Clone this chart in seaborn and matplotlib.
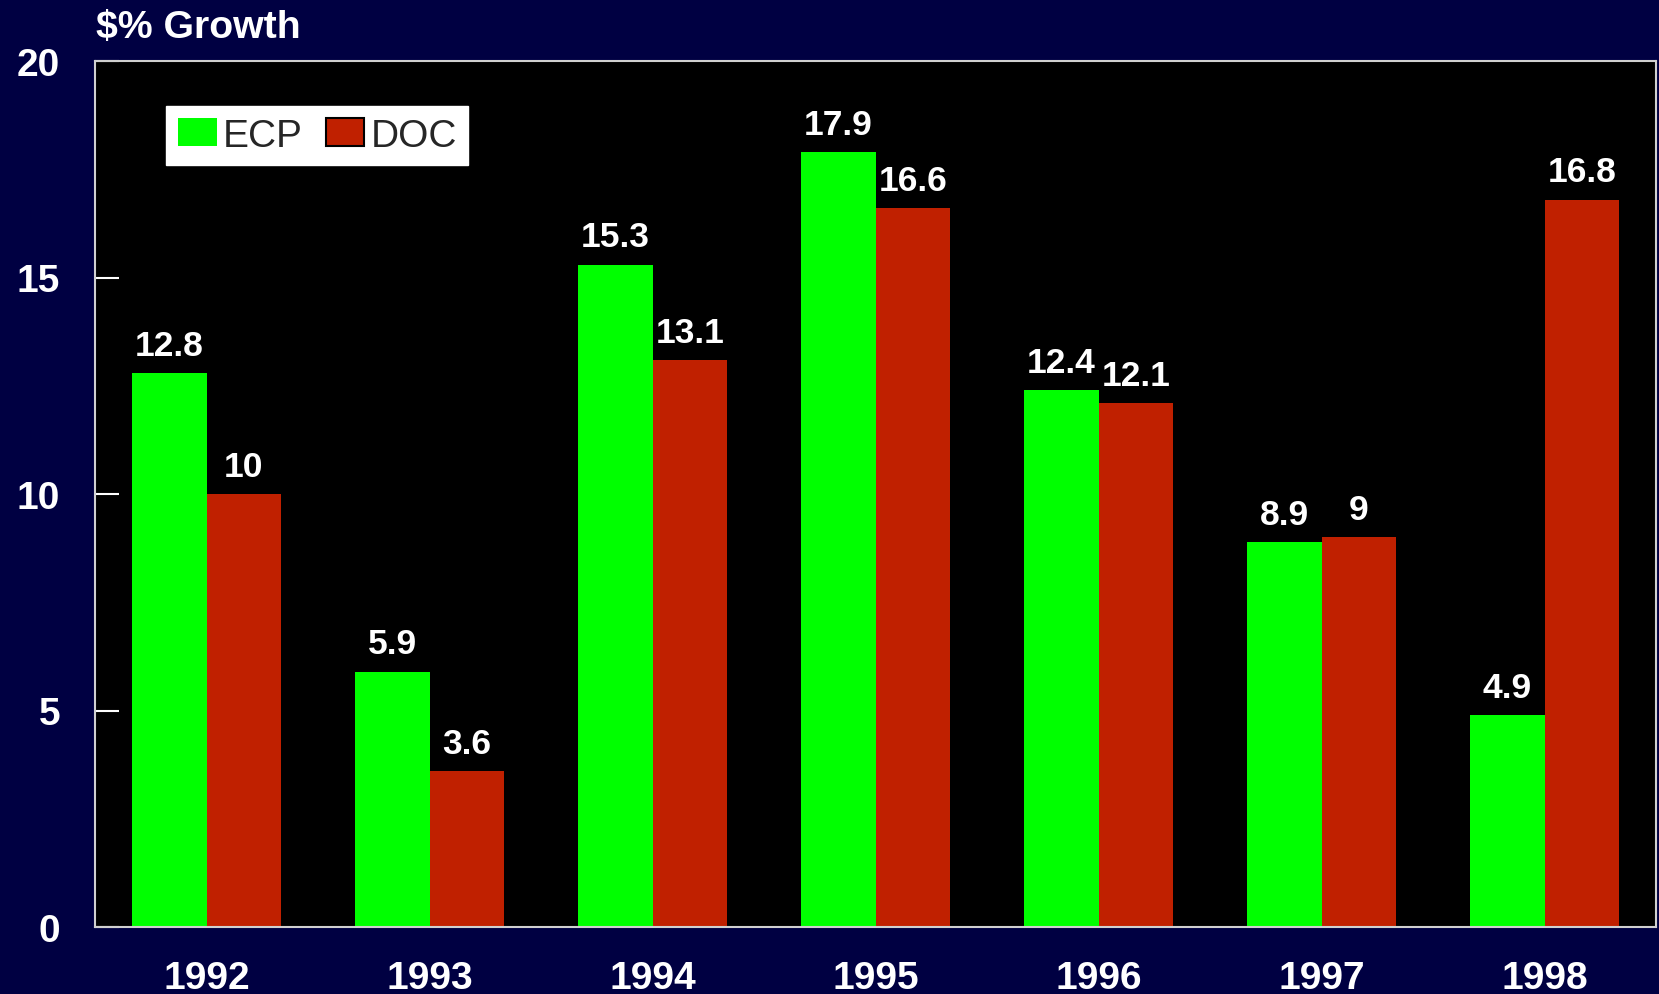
import pandas as pd
import seaborn as sns
import matplotlib.pyplot as plt
from matplotlib.patches import Patch

years = ['1992', '1993', '1994', '1995', '1996', '1997', '1998']
ecp = [12.8, 5.9, 15.3, 17.9, 12.4, 8.9, 4.9]
doc = [10, 3.6, 13.1, 16.6, 12.1, 9, 16.8]
series = ['ECP', 'DOC']
colors = ['#00ff00', '#c02000']
navy = '#000042'

df = pd.DataFrame({
    'year': years * 2,
    'value': ecp + doc,
    'series': ['ECP'] * len(years) + ['DOC'] * len(years),
})

sns.set_style('white')
plt.rcParams['font.family'] = ['Liberation Sans', 'DejaVu Sans']

fig = plt.figure(figsize=(16.59, 9.95), dpi=100, facecolor=navy)
ax = fig.add_axes([95 / 1659, 1 - 928 / 995, 1561 / 1659, 866 / 995])
ax.set_facecolor('black')

sns.barplot(data=df, x='year', y='value', hue='series', hue_order=series,
            palette=colors, width=0.67, saturation=1, linewidth=0,
            legend=False, ax=ax)

for cont in ax.containers:
    labels = ['%g' % v for v in cont.datavalues]
    ax.bar_label(cont, labels=labels, padding=8, color='white',
                 fontsize=25.5, fontweight='bold')

ax.set_xlim(-0.5, 6.5)
ax.set_ylim(0, 20)
ax.set_yticks([0, 5, 10, 15, 20])
ax.set_xlabel('')
ax.set_ylabel('')
for s in ax.spines.values():
    s.set_color('#d0d0d0')
    s.set_linewidth(1.5)
    s.set_visible(True)
ax.tick_params(axis='both', direction='in', length=17, width=1.5, color='white',
               labelcolor='white', labelsize=28)
ax.tick_params(axis='y', pad=25, left=True)
ax.tick_params(axis='x', pad=24, bottom=True)
for lab in ax.get_xticklabels() + ax.get_yticklabels():
    lab.set_fontweight('bold')

fig.text(96 / 1659, 1 - 28 / 995, r'\$% Growth', color='white', fontsize=28.3,
         fontweight='bold', ha='left', va='center')

handles = [Patch(facecolor=colors[0], edgecolor='none'),
           Patch(facecolor=colors[1], edgecolor='black', linewidth=1.5)]
leg = ax.legend(handles, series, loc='upper left', ncol=2,
                bbox_to_anchor=(166 / 1659, 1 - 107 / 995),
                bbox_transform=fig.transFigure, borderaxespad=0,
                fontsize=28, frameon=True, fancybox=False, framealpha=1,
                facecolor='white', edgecolor='white', handlelength=1.0,
                handleheight=0.7, handletextpad=0.15, columnspacing=0.6,
                borderpad=0.3)

fig.savefig('out.png', dpi=100, facecolor=navy)
